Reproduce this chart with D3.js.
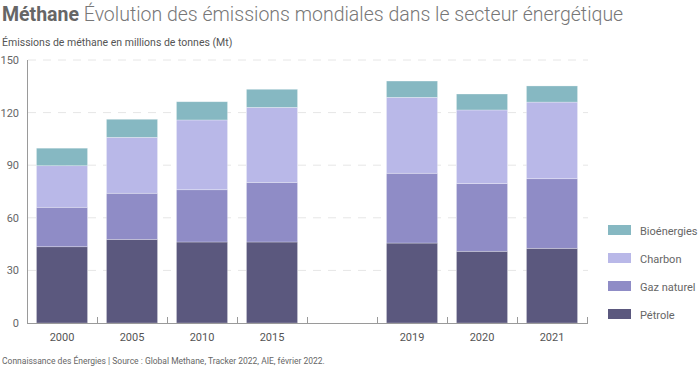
<!DOCTYPE html>
<html><head><meta charset="utf-8">
<script src="https://cdn.jsdelivr.net/npm/d3@7"></script>
<style>body{margin:0;background:#fff;font-family:Roboto,"Noto Sans",sans-serif;}</style>
</head><body>
<svg id="c" width="700" height="368"></svg>
<script>
const categories = ["2000","2005","2010","2015","","2019","2020","2021"];
const series = ["Pétrole","Gaz naturel","Charbon","Bioénergies"];
const petrole   = [43.5, 47.7, 46.2, 46.2, 0, 45.6, 40.9, 42.6];
const gaz       = [22.5, 26.3, 29.8, 34.0, 0, 39.8, 38.6, 39.7];
const charbon   = [23.7, 31.9, 39.8, 42.8, 0, 43.3, 42.0, 43.7];
const bio       = [10.0, 10.3, 10.4, 10.3, 0, 9.3, 9.1, 9.2];
const yTicks = [0,30,60,90,120,150];
const colors = ["#5b587e","#8f8cc6","#b9b8e8","#86b8c2"];

const svg = d3.select("#c");
const x = d3.scaleBand().domain(categories.map((c,i)=>i)).range([27,587]).paddingInner(0.27).paddingOuter(0.135);
const y = d3.scaleLinear().domain([0,150]).range([323,60]);

// grid
svg.append("g").selectAll("line").data(yTicks.filter(d=>d>0)).join("line")
  .attr("x1",28).attr("x2",588).attr("y1",d=>y(d)).attr("y2",d=>y(d))
  .attr("stroke","#e6e6e6").attr("stroke-dasharray","8,7");

// stack
const rows = categories.map((c,i)=>({i, "Pétrole":petrole[i], "Gaz naturel":gaz[i], "Charbon":charbon[i], "Bioénergies":bio[i]}));
const stacked = d3.stack().keys(series)(rows);
svg.append("g").selectAll("g").data(stacked).join("g").attr("fill",(d,k)=>colors[k])
  .selectAll("rect").data(d=>d.filter(p=>p[1]>p[0])).join("rect")
  .attr("x",d=>x(d.data.i)).attr("width",x.bandwidth())
  .attr("y",d=>y(d[1])).attr("height",d=>y(d[0])-y(d[1]))
  .attr("stroke","#ffffff").attr("stroke-opacity",0.4).attr("stroke-width",0.7);

// axes
const ax = svg.append("g").attr("stroke","#9a9a9a").attr("stroke-width",1);
ax.append("line").attr("x1",27.5).attr("x2",27.5).attr("y1",60).attr("y2",323.5);
ax.append("line").attr("x1",27).attr("x2",588).attr("y1",323.5).attr("y2",323.5);
const step = x.step();
const bounds = d3.range(1, categories.length+1).map(k=>27 + k*step);
ax.selectAll(".tk").data(bounds).join("line")
  .attr("x1",d=>Math.round(d)+0.5).attr("x2",d=>Math.round(d)+0.5).attr("y1",317).attr("y2",323);

svg.append("g").selectAll("text").data(yTicks).join("text")
  .attr("x",19).attr("y",d=>y(d)+4).attr("text-anchor","end")
  .attr("font-size",11).attr("fill","#666").text(d=>d);

svg.append("g").selectAll("text").data(categories.map((c,i)=>({c,i})).filter(d=>d.c)).join("text")
  .attr("x",d=>x(d.i)+x.bandwidth()/2).attr("y",341).attr("text-anchor","middle")
  .attr("font-size",11).attr("fill","#555").text(d=>d.c);

// titles
const t = svg.append("text").attr("x",2).attr("y",21).attr("font-size",19.5).attr("fill","#666");
t.append("tspan").attr("font-weight",700).text("Méthane");
t.append("tspan").attr("font-weight",300).attr("fill","#777").text(" Évolution des émissions mondiales dans le secteur énergétique");
svg.append("text").attr("x",2).attr("y",46).attr("font-size",10.5).attr("fill","#555")
  .text("Émissions de méthane en millions de tonnes (Mt)");
svg.append("text").attr("x",2).attr("y",364).attr("font-size",8.5).attr("fill","#666")
  .text("Connaissance des Énergies | Source : Global Methane, Tracker 2022, AIE, février 2022.");

// legend
const leg = svg.append("g").selectAll("g").data(series.slice().reverse()).join("g")
  .attr("transform",(d,k)=>`translate(608,${225+k*28})`);
leg.append("rect").attr("width",23).attr("height",10).attr("fill",d=>colors[series.indexOf(d)]);
leg.append("text").attr("x",32).attr("y",9.5).attr("font-size",11).attr("fill","#666").text(d=>d);
</script>
</body></html>
